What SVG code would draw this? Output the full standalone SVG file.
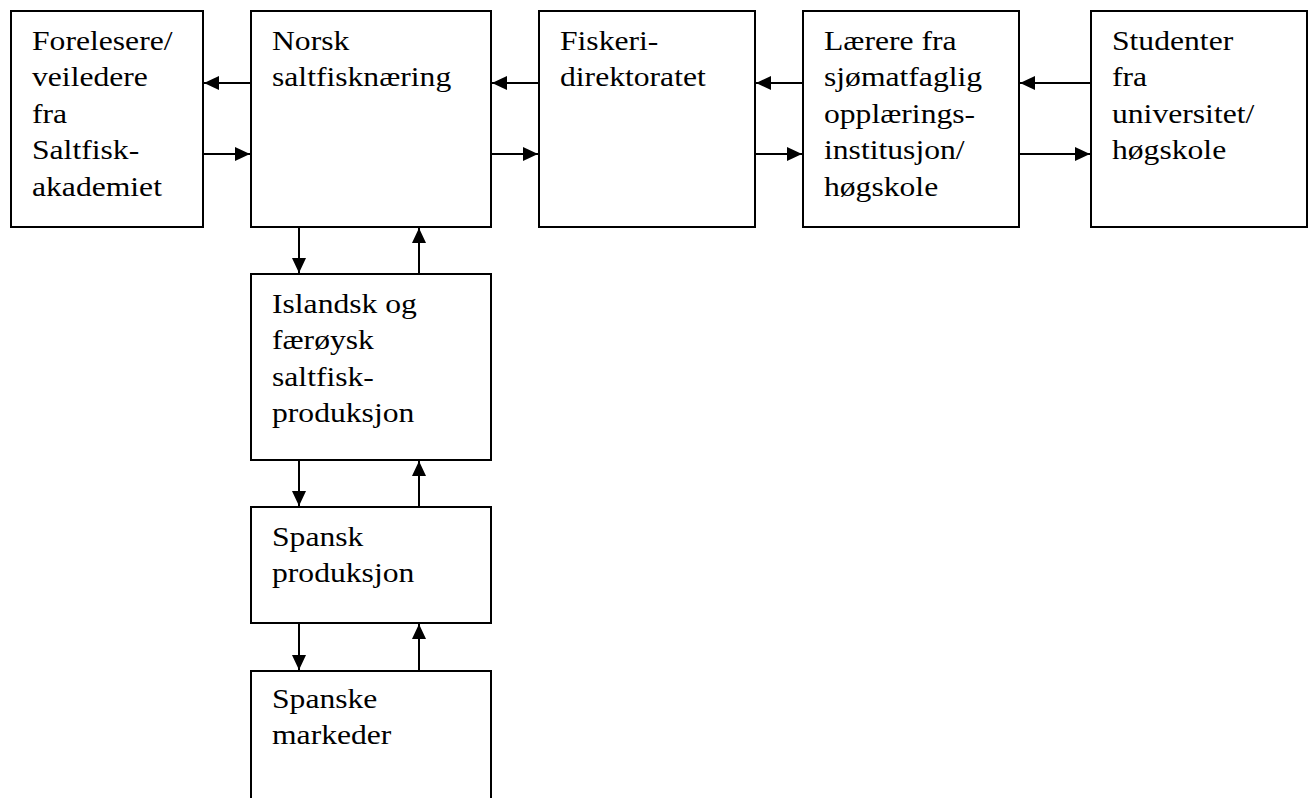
<svg xmlns="http://www.w3.org/2000/svg" width="1311" height="798" viewBox="0 0 1311 798">
<style>
rect.box{fill:#fff;stroke:#000;stroke-width:2}
text{font-family:'Liberation Serif','Times New Roman',Times,serif;font-size:28px;fill:#000}
.con line{stroke:#000;stroke-width:2}
</style>
<defs>
<marker id="ah" markerUnits="userSpaceOnUse" markerWidth="15" markerHeight="15" viewBox="0 0 15 15" refX="15" refY="7.5" orient="auto">
<path d="M0,0.5 L15,7.5 L0,14.5 Z" fill="#000"/>
</marker>
</defs>
<rect width="1311" height="798" fill="#fff"/>
<g id="n1"><rect class="box" x="11" y="11" width="192" height="216"/>
<text font-family="Liberation Serif" transform="translate(32,50) scale(1.13,1)"><tspan x="0" y="0">Forelesere/</tspan><tspan x="0" y="36.5">veiledere</tspan><tspan x="0" y="73">fra</tspan><tspan x="0" y="109.5">Saltfisk-</tspan><tspan x="0" y="146">akademiet</tspan></text></g>
<g id="n2"><rect class="box" x="251" y="11" width="240" height="216"/>
<text font-family="Liberation Serif" transform="translate(272,50) scale(1.13,1)"><tspan x="0" y="0">Norsk</tspan><tspan x="0" y="36.5">saltfisknæring</tspan></text></g>
<g id="n3"><rect class="box" x="539" y="11" width="216" height="216"/>
<text font-family="Liberation Serif" transform="translate(560,50) scale(1.13,1)"><tspan x="0" y="0">Fiskeri-</tspan><tspan x="0" y="36.5">direktoratet</tspan></text></g>
<g id="n4"><rect class="box" x="803" y="11" width="216" height="216"/>
<text font-family="Liberation Serif" transform="translate(824,50) scale(1.13,1)"><tspan x="0" y="0">Lærere fra</tspan><tspan x="0" y="36.5">sjømatfaglig</tspan><tspan x="0" y="73">opplærings-</tspan><tspan x="0" y="109.5">institusjon/</tspan><tspan x="0" y="146">høgskole</tspan></text></g>
<g id="n5"><rect class="box" x="1091" y="11" width="216" height="216"/>
<text font-family="Liberation Serif" transform="translate(1112,50) scale(1.13,1)"><tspan x="0" y="0">Studenter</tspan><tspan x="0" y="36.5">fra</tspan><tspan x="0" y="73">universitet/</tspan><tspan x="0" y="109.5">høgskole</tspan></text></g>
<g id="n6"><rect class="box" x="251" y="274" width="240" height="186"/>
<text font-family="Liberation Serif" transform="translate(272,313) scale(1.13,1)"><tspan x="0" y="0">Islandsk og</tspan><tspan x="0" y="36.5">færøysk</tspan><tspan x="0" y="73">saltfisk-</tspan><tspan x="0" y="109.5">produksjon</tspan></text></g>
<g id="n7"><rect class="box" x="251" y="507" width="240" height="116"/>
<text font-family="Liberation Serif" transform="translate(272,546) scale(1.13,1)"><tspan x="0" y="0">Spansk</tspan><tspan x="0" y="36.5">produksjon</tspan></text></g>
<g id="n8"><rect class="box" x="251" y="671" width="240" height="150"/>
<text font-family="Liberation Serif" transform="translate(272,708) scale(1.13,1)"><tspan x="0" y="0">Spanske</tspan><tspan x="0" y="36.5">markeder</tspan></text></g>
<g id="connectors" class="con">
<line x1="251" y1="83" x2="204" y2="83" marker-end="url(#ah)"/>
<line x1="203" y1="154" x2="250" y2="154" marker-end="url(#ah)"/>
<line x1="539" y1="83" x2="492" y2="83" marker-end="url(#ah)"/>
<line x1="491" y1="154" x2="538" y2="154" marker-end="url(#ah)"/>
<line x1="803" y1="83" x2="756" y2="83" marker-end="url(#ah)"/>
<line x1="755" y1="154" x2="802" y2="154" marker-end="url(#ah)"/>
<line x1="1091" y1="83" x2="1020" y2="83" marker-end="url(#ah)"/>
<line x1="1019" y1="154" x2="1090" y2="154" marker-end="url(#ah)"/>
<line x1="299" y1="227" x2="299" y2="273" marker-end="url(#ah)"/>
<line x1="419" y1="274" x2="419" y2="228" marker-end="url(#ah)"/>
<line x1="299" y1="460" x2="299" y2="506" marker-end="url(#ah)"/>
<line x1="419" y1="507" x2="419" y2="461" marker-end="url(#ah)"/>
<line x1="299" y1="623" x2="299" y2="670" marker-end="url(#ah)"/>
<line x1="419" y1="671" x2="419" y2="624" marker-end="url(#ah)"/>
</g>
</svg>
